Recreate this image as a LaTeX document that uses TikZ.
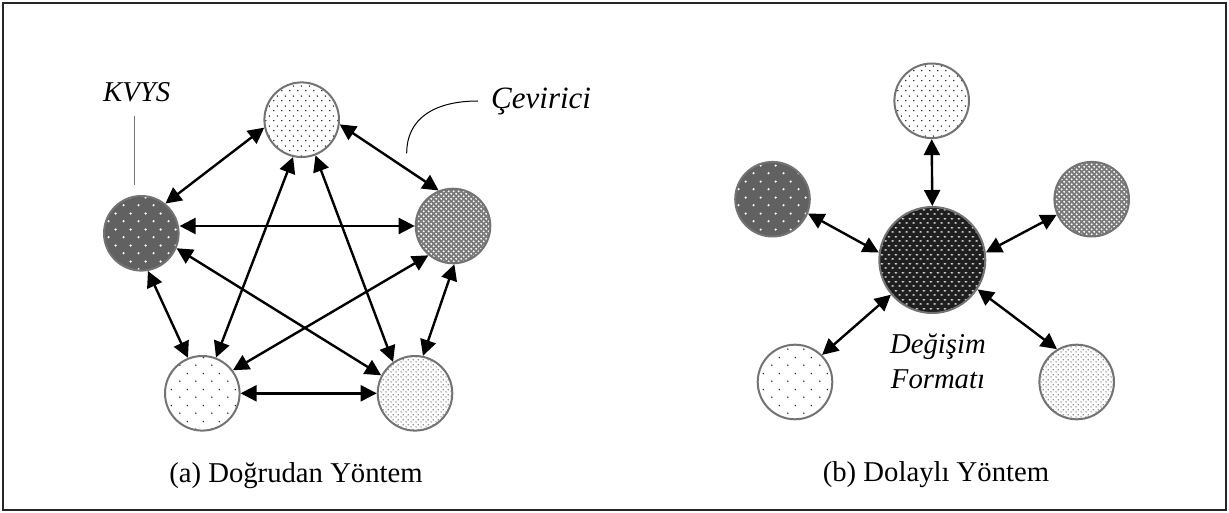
\documentclass[tikz,border=0pt]{standalone}
\usepackage{fontspec}
\setmainfont{Liberation Serif}
\usetikzlibrary{arrows.meta,patterns}

% dotted fills of different densities
\pgfdeclarepatternformonly{dotsSparse}{\pgfpointorigin}{\pgfqpoint{16pt}{16pt}}{\pgfqpoint{16pt}{16pt}}{%
  \pgfpathcircle{\pgfqpoint{4pt}{4pt}}{0.85pt}%
  \pgfpathcircle{\pgfqpoint{12pt}{12pt}}{0.85pt}%
  \pgfusepath{fill}}
\pgfdeclarepatternformonly{dotsMid}{\pgfpointorigin}{\pgfqpoint{8pt}{10pt}}{\pgfqpoint{8pt}{10pt}}{%
  \pgfpathcircle{\pgfqpoint{2pt}{2.5pt}}{0.85pt}%
  \pgfpathcircle{\pgfqpoint{6pt}{7.5pt}}{0.85pt}%
  \pgfusepath{fill}}
\pgfdeclarepatternformonly{dotsDense}{\pgfpointorigin}{\pgfqpoint{5pt}{5pt}}{\pgfqpoint{5pt}{5pt}}{%
  \pgfpathcircle{\pgfqpoint{1.25pt}{1.25pt}}{0.7pt}%
  \pgfpathcircle{\pgfqpoint{3.75pt}{3.75pt}}{0.7pt}%
  \pgfusepath{fill}}
\pgfdeclarepatternformonly{spotsWide}{\pgfpointorigin}{\pgfqpoint{15pt}{16pt}}{\pgfqpoint{15pt}{16pt}}{%
  \pgfpathcircle{\pgfqpoint{3.75pt}{4pt}}{1.3pt}%
  \pgfpathcircle{\pgfqpoint{11.25pt}{12pt}}{1.3pt}%
  \pgfusepath{fill}}
\pgfdeclarepatternformonly{spotsTight}{\pgfpointorigin}{\pgfqpoint{5.4pt}{5.4pt}}{\pgfqpoint{5.4pt}{5.4pt}}{%
  \pgfpathcircle{\pgfqpoint{1.35pt}{1.35pt}}{1.1pt}%
  \pgfpathcircle{\pgfqpoint{4.05pt}{4.05pt}}{1.1pt}%
  \pgfusepath{fill}}
\pgfdeclarepatternformonly{ovals}{\pgfpointorigin}{\pgfqpoint{6.8pt}{9pt}}{\pgfqpoint{6.8pt}{9pt}}{%
  \pgfpathellipse{\pgfqpoint{1.7pt}{2.25pt}}{\pgfqpoint{1.6pt}{0pt}}{\pgfqpoint{0pt}{0.8pt}}%
  \pgfpathellipse{\pgfqpoint{5.1pt}{6.75pt}}{\pgfqpoint{1.6pt}{0pt}}{\pgfqpoint{0pt}{0.8pt}}%
  \pgfusepath{fill}}

\tikzset{
  arr/.style={line width=2.4pt,
    {Triangle[length=16pt,width=16pt]}-{Triangle[length=16pt,width=16pt]}},
  disc/.style={circle, minimum size=74.6pt, inner sep=0pt, line width=2pt, draw=black!55},
  hub/.style={disc, minimum size=106pt},
  fillSparse/.style={preaction={fill=white}, pattern=dotsSparse, pattern color=black!85},
  fillMid/.style={preaction={fill=white}, pattern=dotsMid, pattern color=black!85},
  fillDense/.style={preaction={fill=white}, pattern=dotsDense, pattern color=black!85},
  fillDark/.style={preaction={fill=black!62}, pattern=spotsWide, pattern color=white},
  fillGrey/.style={preaction={fill=black!52}, pattern=spotsTight, pattern color=white},
  fillHub/.style={preaction={fill=black!88}, pattern=ovals, pattern color=white},
  lbl/.style={font=\fontsize{28.7pt}{34pt}\selectfont, inner sep=0pt, anchor=base},
  ilbl/.style={lbl, font=\fontsize{28.7pt}{34pt}\selectfont\itshape},
  pointer/.style={line width=1pt},
}

\begin{document}
\begin{tikzpicture}[x=1pt, y=-1pt]
\useasboundingbox (0,0) rectangle (1229,513);
\draw[line width=1.8pt, black!85] (3,3) rectangle (1226,510);

% ---------- (a) direct method ----------
\node[disc, fillMid]    (T)  at (301.7,119.7) {};
\node[disc, fillDark]   (L)  at (141.3,233.3) {};
\node[disc, fillGrey]   (R)  at (453,226) {};
\node[disc, fillSparse] (BL) at (202.3,393.3) {};
\node[disc, fillDense]  (BR) at (415,393.3) {};

\draw[arr] (T.192) -- (L.51);
\draw[arr] (T.-7)  -- (R.112);
\draw[arr] (L.east |- R.west) -- (R.west);
\draw[arr] (L.-80) -- (BL.112);
\draw[arr] (R.-88) -- (BR.78);
\draw[arr] (BL.east) -- (BR.west);
\draw[arr] (T.257) -- (BL.69);
\draw[arr] (T.-69) -- (BR.125);
\draw[arr] (L.-23) -- (BR.152);
\draw[arr] (R.230) -- (BL.37);

\node[ilbl] (kvys) at (136.7,101.7) {KVYS};
\coordinate (kvA) at (134,116);
\coordinate (kvB) at (134,185);
\draw[line width=1pt, black!55] (kvA) -- (kvB);

\node[ilbl, anchor=base west, font=\fontsize{31pt}{36pt}\selectfont\itshape] (cev) at (491,109) {Çevirici};
\coordinate (cvA) at (406.7,153.3);
\coordinate (cvB) at (478,101);
\draw[pointer] (cvA) .. controls (406.7,118) and (435,101) .. (cvB);

\node[lbl] (capa) at (296,482) {(a) Doğrudan Yöntem};

% ---------- (b) indirect method ----------
\node[hub, fillHub]     (C)   at (932.3,260) {};
\node[disc, fillMid]    (RT)  at (931.7,100.8) {};
\node[disc, fillDark]   (RL)  at (772.5,199.2) {};
\node[disc, fillGrey]   (RR)  at (1091.7,199.2) {};
\node[disc, fillSparse] (RBL) at (795,382) {};
\node[disc, fillDense]  (RBR) at (1076.7,382) {};

\draw[arr] (RT.south) -- (C.north);
\draw[arr] (RL.-22) -- (C.172);
\draw[arr] (RR.204.5) -- (C.8.8);
\draw[arr] (RBL.45) -- (C.220.7);
\draw[arr] (RBR.121) -- (C.-33);

\node[ilbl] (deg) at (938,353) {Değişim};
\node[ilbl] (fmt) at (938,388.3) {Formatı};

\node[lbl] (capb) at (936,481.7) {(b) Dolaylı Yöntem};
\end{tikzpicture}
\end{document}
